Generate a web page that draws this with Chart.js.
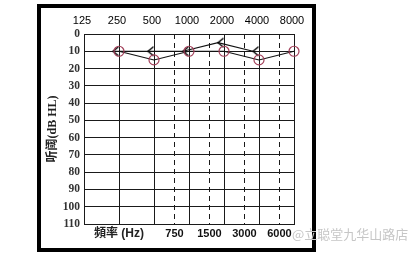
<!DOCTYPE html>
<html>
<head>
<meta charset="utf-8">
<script src="https://cdn.jsdelivr.net/npm/chart.js@4.4.1/dist/chart.umd.min.js"></script>
<style>
  html, body { margin: 0; padding: 0; background: #fff; }
  #wrap { position: relative; width: 420px; height: 253px; overflow: hidden; }
  #frame { position: absolute; left: 37px; top: 4px; width: 279px; height: 248px; border: 4px solid #000; box-sizing: border-box; }
  #audiogram { position: absolute; left: 0; top: 0; }
  #mark { position: absolute; left: 292px; top: 224px; font: 13px "Noto Sans CJK SC", sans-serif; color: #c6c6c6; white-space: nowrap; }
</style>
</head>
<body>
<div id="wrap">
  <div id="frame"></div>
  <canvas id="audiogram" width="420" height="253"></canvas>
  <div id="mark">@立聪堂九华山路店</div>
</div>
<script>
// frequencies (Hz) on the top axis, half-octave lines at the bottom
const octaveFreqs = [125, 250, 500, 1000, 2000, 4000, 8000];
const halfFreqs = [750, 1500, 3000, 6000];
const dbTicks = [0, 10, 20, 30, 40, 50, 60, 70, 80, 90, 100, 110];

// air conduction (circles)
const airFreqs = [250, 500, 1000, 2000, 4000, 8000];
const airDb = [10, 15, 10, 10, 15, 10];

// bone conduction ( < )
const boneFreqs = [250, 500, 1000, 2000, 4000];
const boneDb = [10, 10, 10, 5, 10];

document.addEventListener('DOMContentLoaded', function () {
    // "<" marker, tip at the centre of the image
    const lt = document.createElement('canvas');
    lt.width = 14;
    lt.height = 12;
    const c = lt.getContext('2d');
    c.strokeStyle = '#000';
    c.lineWidth = 1.4;
    c.beginPath();
    c.moveTo(12.5, 1.5);
    c.lineTo(7, 6);
    c.lineTo(12.5, 10.5);
    c.stroke();

    // bone symbols sit a little left of the frequency line
    const shiftBone = {
        id: 'shiftBone',
        afterDatasetsUpdate(chart) {
            chart.getDatasetMeta(1).data.forEach(p => { p.x -= 6; });
        }
    };

    const ctx = document.getElementById('audiogram').getContext('2d');

    new Chart(ctx, {
        type: 'line',
        data: {
            datasets: [{
                label: 'air',
                data: airFreqs.map((f, i) => ({ x: f, y: airDb[i] })),
                borderColor: '#111',
                borderWidth: 1.1,
                pointStyle: 'circle',
                pointRadius: 5,
                pointBorderColor: '#a3405a',
                pointBackgroundColor: 'rgba(0,0,0,0)',
                pointBorderWidth: 1.2,
                clip: false
            }, {
                label: 'bone',
                data: boneFreqs.map((f, i) => ({ x: f, y: boneDb[i] })),
                borderColor: '#111',
                borderWidth: 1.1,
                pointStyle: lt,
                pointRadius: 5,
                clip: false
            }]
        },
        options: {
            responsive: false,
            animation: false,
            events: [],
            layout: { padding: { left: 44, top: 8, right: 126, bottom: 7 } },
            plugins: {
                legend: { display: false },
                tooltip: { enabled: false }
            },
            scales: {
                x: {
                    type: 'logarithmic',
                    position: 'top',
                    min: 125,
                    max: 8000,
                    afterBuildTicks: s => { s.ticks = octaveFreqs.map(v => ({ value: v })); },
                    afterFit: s => { s.height = 26; },
                    grid: { color: '#1a1a1a', lineWidth: 1, drawTicks: false },
                    border: { display: true, color: '#1a1a1a', width: 1 },
                    ticks: {
                        autoSkip: false,
                        maxRotation: 0,
                        padding: 6,
                        labelOffset: -2,
                        color: '#000',
                        font: { family: '"Liberation Sans", Arial, sans-serif', size: 11 },
                        callback: v => String(v)
                    }
                },
                x2: {
                    type: 'logarithmic',
                    position: 'bottom',
                    min: 125,
                    max: 8000,
                    afterBuildTicks: s => { s.ticks = halfFreqs.map(v => ({ value: v })); },
                    afterFit: s => { s.height = 22; },
                    grid: { color: '#1a1a1a', lineWidth: 1, drawTicks: false },
                    border: { display: true, color: '#1a1a1a', width: 1, dash: [5, 4] },
                    title: {
                        display: true,
                        text: '   頻率 (Hz)',
                        align: 'start',
                        color: '#222',
                        padding: { top: 0, bottom: 5 },
                        font: { family: '"Liberation Sans", "Noto Sans CJK TC", sans-serif', size: 12, weight: 'bold' }
                    },
                    ticks: {
                        autoSkip: false,
                        maxRotation: 0,
                        padding: 3,
                        color: '#111',
                        font: { family: '"Liberation Sans", Arial, sans-serif', size: 11, weight: 'bold' },
                        callback: v => String(v)
                    }
                },
                y: {
                    type: 'linear',
                    reverse: true,
                    min: 0,
                    max: 110,
                    afterBuildTicks: s => { s.ticks = dbTicks.map(v => ({ value: v })); },
                    afterFit: s => { s.width = 40; },
                    grid: { color: '#1a1a1a', lineWidth: 1, drawTicks: false },
                    border: { display: true, color: '#1a1a1a', width: 1 },
                    title: {
                        display: true,
                        text: '听阈(dB HL)',
                        color: '#222',
                        padding: { top: 2, bottom: 0 },
                        font: { family: '"Liberation Serif", "Noto Sans CJK SC", serif', size: 12, weight: 'bold' }
                    },
                    ticks: {
                        padding: 4,
                        color: '#333',
                        font: { family: '"Liberation Serif", "Times New Roman", serif', size: 11.5, weight: 'bold' },
                        callback: v => String(v)
                    }
                }
            }
        },
        plugins: [shiftBone]
    });
});
</script>
</body>
</html>
